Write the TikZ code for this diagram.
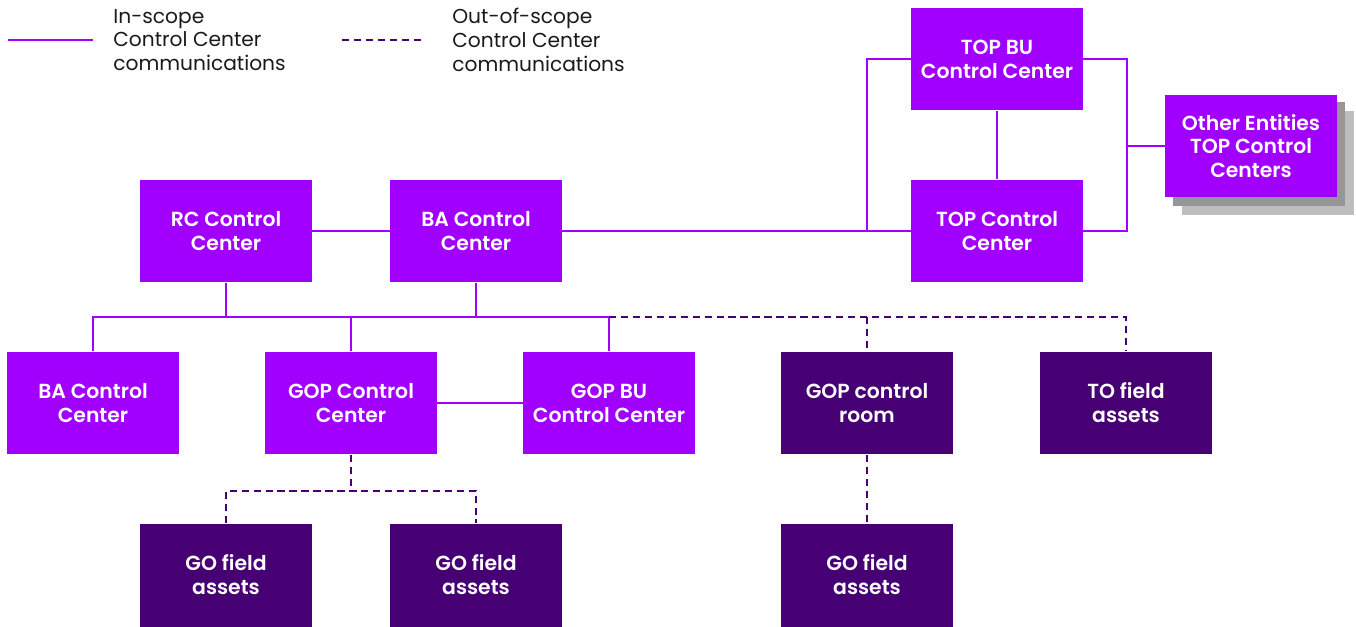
\documentclass[tikz,border=0pt]{standalone}
\usepackage{fontspec}
\setmainfont{Poppins}[BoldFont={Poppins SemiBold}]
\usepackage{tikz}
\usetikzlibrary{calc}
\usetikzlibrary{positioning}
\definecolor{cc-text}{HTML}{1A1A1A}
\definecolor{cc-inscope}{HTML}{A100FF}
\definecolor{cc-outscope}{HTML}{460073}
\definecolor{cc-shade1}{HTML}{969696}
\definecolor{cc-shade2}{HTML}{BEBEBE}

\begin{document}
\begin{tikzpicture}[x=0.02cm, y=-0.02cm,
        ccbox/.style={fill=cc-inscope, text=white, minimum width=3.44cm, minimum height=2.06cm,
            align=center, inner sep=0pt, font=\fontsize{11.6}{13.6}\selectfont\bfseries},
        fieldbox/.style={ccbox, fill=cc-outscope},
        inlink/.style={cc-inscope, line width=1.1pt},
        outlink/.style={cc-outscope, line width=1.1pt, dash pattern=on 4.2pt off 2.6pt}]
        \useasboundingbox (0,0) rectangle (1356,626);
        % legend
        \coordinate (lgA) at (8,40);
        \coordinate (lgB) at (93,40);
        \coordinate (lgC) at (342,40);
        \coordinate (lgD) at (425,40);
        \draw[inlink] (lgA) -- (lgB);
        \draw[outlink] (lgC) -- (lgD);
        \node[cc-text, anchor=west, align=left, inner sep=0pt, font=\fontsize{11.5}{13.6}\selectfont] (lgin) at (113,40) {In-scope\\Control Center\\communications};
        \node[cc-text, anchor=west, align=left, inner sep=0pt, font=\fontsize{11.5}{13.6}\selectfont] (lgout) at (452,40) {Out-of-scope\\Control Center\\communications};
        % boxes
        \node[ccbox] (topbu) at (997,59) {TOP BU\\Control Center};
        \node[ccbox] (topcc) at (997,231) {TOP Control\\Center};
        \fill[cc-shade2] (1182,111) rectangle (1354,215);
        \fill[cc-shade1] (1173,102) rectangle (1345,206);
        \node[ccbox] (other) at (1251,146) {Other Entities\\TOP Control\\Centers};
        \node[ccbox] (rc) at (226,231) {RC Control\\Center};
        \node[ccbox] (ba) at (476,231) {BA Control\\Center};
        \node[ccbox] (ba2) at (93,403) {BA Control\\Center};
        \node[ccbox] (gopcc) at (351,403) {GOP Control\\Center};
        \node[ccbox] (gopbu) at (609,403) {GOP BU\\Control Center};
        \node[fieldbox] (goproom) at (867,403) {GOP control\\room};
        \node[fieldbox] (tofield) at (1126,403) {TO field\\assets};
        \node[fieldbox] (go1) at (226,575) {GO field\\assets};
        \node[fieldbox] (go2) at (476,575) {GO field\\assets};
        \node[fieldbox] (go3) at (867,575) {GO field\\assets};
        % junctions
        \coordinate (lj) at (867,231);
        \coordinate (rt) at (1127,59);
        \coordinate (rb) at (1127,231);
        \coordinate (bus) at (0,317);
        \coordinate (gobus) at (0,491);
        % in-scope links
        \draw[inlink] (rc) -- (ba);
        \draw[inlink] (ba) -- (topcc);
        \draw[inlink] (topbu) -- (topcc);
        \draw[inlink] (topbu.west) -| (lj);
        \draw[inlink] (topbu.east) -- (rt) -- (rb) -- (topcc.east);
        \draw[inlink] (other.west) -- (other.west -| rt);
        \draw[inlink] (rc.south) -- (rc.south |- bus);
        \draw[inlink] (ba.south) -- (ba.south |- bus);
        \draw[inlink] (ba2.north) |- (gopbu.north |- bus) -- (gopbu.north);
        \draw[inlink] (gopcc.north) -- (gopcc.north |- bus);
        \draw[inlink] (gopcc) -- (gopbu);
        % out-of-scope links
        \draw[outlink] (gopbu.north |- bus) -| (tofield.north);
        \draw[outlink] (goproom.north |- bus) -- (goproom.north);
        \draw[outlink] (gopcc.south) -- (gopcc.south |- gobus);
        \draw[outlink] (go1.north) |- (gopcc.south |- gobus) -| (go2.north);
        \draw[outlink] (goproom) -- (go3);
    \end{tikzpicture}
\end{document}
